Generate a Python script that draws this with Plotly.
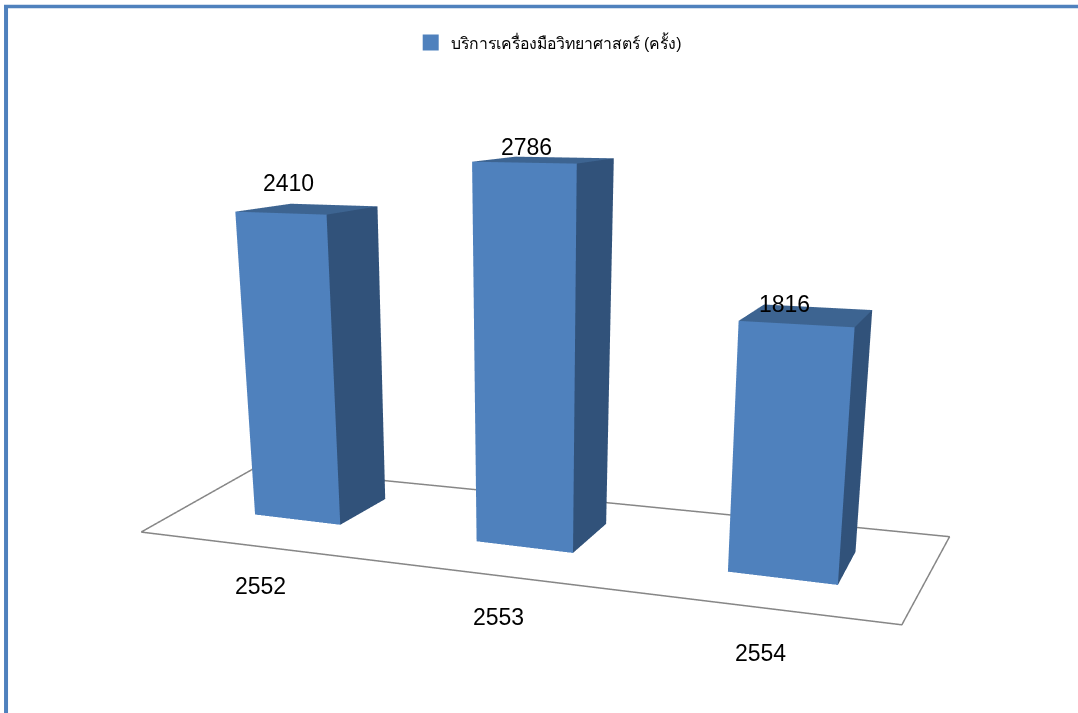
import plotly.graph_objects as go

years = ["2552", "2553", "2554"]
values = [2410, 2786, 1816]
series_name = "บริการเครื่องมือวิทยาศาสตร์ (ครั้ง)"
FRONT, SIDE, TOP = "#4f81bd", "#31527a", "#3d6491"
FRAME = "#4f81bd"
BAR_W, BAR_D, BAR_Y = 0.3990, 0.4380, 0.0277
SKEW_X, SKEW_Y = 0.0652, 0.3522   # oblique look of the original 3-D chart
TAPER_MID, TAPER_BASE, TAPER_K = 1.1, 1.03, 0.069
floor_x = [-0.545, 2.50, 2.558, -0.657, -0.545]
floor_y = [-0.58, -0.55, 0.59, 0.54, -0.58]
value_dx = [-0.175, -0.14, -0.118]
value_dz = [-55, -120, -180]
value_dy = 0.2
cat_dx = [0.26, 0.196, 0.106]
cat_y = [-1.0, -0.99, -0.99]
FONT = "Liberation Sans, sans-serif"

def sx(x, y):
    return x + SKEW_X * y

def sy(x, y):
    return y + SKEW_Y * (x - 1)

def taper(x, z):
    return TAPER_MID + (x - TAPER_MID) * (TAPER_BASE - TAPER_K * z / 3000)

fig = go.Figure()

def box(cx, z1):
    xs = [cx - BAR_W / 2, cx + BAR_W / 2]
    ys = [BAR_Y - BAR_D / 2, BAR_Y + BAR_D / 2]
    corners = [(xs[0], ys[0]), (xs[1], ys[0]), (xs[1], ys[1]), (xs[0], ys[1])]
    base_x = [x + SKEW_X * (y - BAR_Y) for x, y in corners]
    vx = [taper(x, 0) for x in base_x] + [taper(x, z1) for x in base_x]
    vy = [sy(x, y) for x, y in corners] * 2
    vz = [0] * 4 + [z1] * 4
    i = [0, 0, 1, 1, 4, 4]
    j = [1, 5, 2, 6, 5, 6]
    k = [5, 4, 6, 5, 6, 7]
    fc = [FRONT, FRONT, SIDE, SIDE, TOP, TOP]
    fig.add_trace(go.Mesh3d(x=vx, y=vy, z=vz, i=i, j=j, k=k, facecolor=fc,
                            flatshading=True, showlegend=False, hoverinfo="skip",
                            lighting=dict(ambient=1, diffuse=0, specular=0, fresnel=0)))

for n, v in enumerate(values):
    box(n, v)

fig.add_trace(go.Scatter3d(x=[sx(a, b) for a, b in zip(floor_x, floor_y)],
                           y=[sy(a, b) for a, b in zip(floor_x, floor_y)],
                           z=[0] * len(floor_x), mode="lines",
                           line=dict(color="#868686", width=3),
                           showlegend=False, hoverinfo="skip"))
fig.add_trace(go.Scatter3d(x=[None], y=[None], z=[None], mode="markers", name=series_name,
                           marker=dict(symbol="square", size=16, color=FRONT), showlegend=True))

label_font = dict(family=FONT, size=23, color="black")
annotations = []
for n, (v, d, dz) in enumerate(zip(values, value_dx, value_dz)):
    annotations.append(dict(x=sx(n + d, value_dy), y=sy(n + d, BAR_Y + value_dy), z=v + dz,
                            text=str(v), showarrow=False, xanchor="center", yanchor="bottom",
                            yshift=13, font=label_font))
for n, (yr, d, y) in enumerate(zip(years, cat_dx, cat_y)):
    annotations.append(dict(x=sx(n + d, y), y=sy(n + d, y), z=0,
                            text=yr, showarrow=False, xanchor="center", yanchor="middle",
                            font=label_font))

hidden = dict(visible=False)
fig.update_layout(
    width=1078, height=713, paper_bgcolor="white", margin=dict(l=0, r=0, t=0, b=0),
    showlegend=True,
    legend=dict(x=0.509, y=0.94, xanchor="center", yanchor="middle", orientation="h",
                font=dict(family=FONT, size=15.8, color="black"), bgcolor="rgba(0,0,0,0)"),
    scene=dict(
        xaxis=dict(hidden, range=[-1, 3]),
        yaxis=dict(hidden, range=[-2, 2]),
        zaxis=dict(hidden, range=[0, 3000]),
        aspectmode="manual", aspectratio=dict(x=5.9239, y=4, z=2.5457),
        camera=dict(eye=dict(x=2.1904, y=-4.4597, z=1.4748),
                    center=dict(x=0.0148, y=-0.0643, z=-0.0487),
                    up=dict(x=-0.0166, y=0.0150, z=1),
                    projection=dict(type="perspective")),
        domain=dict(x=[0, 1], y=[0, 1]),
        annotations=annotations,
    ),
    shapes=[
        dict(type="line", xref="paper", yref="paper", x0=0.0056, x1=0.0056, y0=0, y1=0.993,
             line=dict(color=FRAME, width=4)),
        dict(type="line", xref="paper", yref="paper", x0=0.0037, x1=1, y0=0.991, y1=0.991,
             line=dict(color=FRAME, width=3.5)),
    ],
)
fig.write_html("out.html", config=dict(displayModeBar=False),
               post_script="document.body.style.margin='0';")
